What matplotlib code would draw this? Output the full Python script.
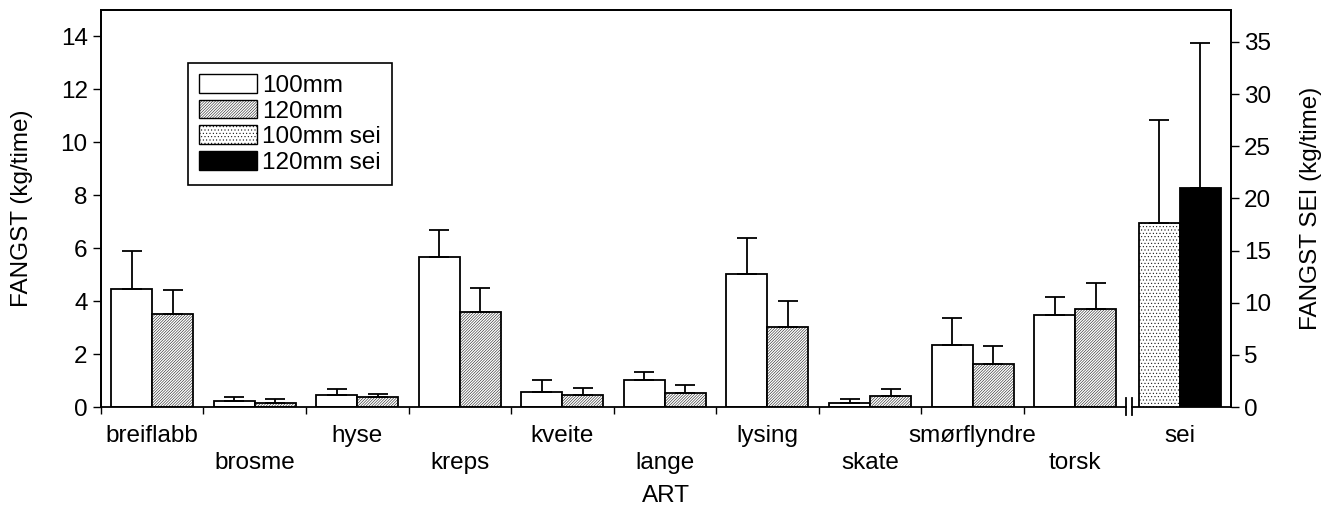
import matplotlib
matplotlib.use("Agg")
import matplotlib.pyplot as plt
import matplotlib.transforms as mtransforms
from matplotlib.patches import Patch
import numpy as np

plt.rcParams['font.family'] = ['Liberation Sans', 'DejaVu Sans']
plt.rcParams['hatch.linewidth'] = 0.35

# catch per species (kg/time), mean and upper error
arter = ['breiflabb', 'brosme', 'hyse', 'kreps', 'kveite',
         'lange', 'lysing', 'skate', 'smørflyndre', 'torsk']
fangst_100 = [4.45, 0.24, 0.44, 5.66, 0.58, 1.02, 5.02, 0.16, 2.35, 3.47]
feil_100 = [1.43, 0.15, 0.23, 1.04, 0.44, 0.32, 1.36, 0.14, 1.03, 0.70]
fangst_120 = [3.51, 0.16, 0.37, 3.58, 0.45, 0.52, 3.01, 0.43, 1.64, 3.71]
feil_120 = [0.91, 0.15, 0.12, 0.91, 0.26, 0.31, 1.01, 0.26, 0.66, 0.98]

# sei plotted on its own (right) axis
sei_fangst = [17.6, 21.0]
sei_feil = [9.9, 13.9]
sei_navn = ['100mm sei', '120mm sei']

serier = ['100mm', '120mm']

FS = 17.5
SKRAVUR = '////////////'


def main():
    fig = plt.figure(figsize=(13.37, 5.13), dpi=100)
    ax = fig.add_axes([0.0755, 0.2066, 0.8452, 0.7739])
    ax2 = ax.twinx()

    n = len(arter)
    w = 0.4
    x = np.arange(n) + 0.5
    lw = 1.3

    ax.bar(x - w / 2, fangst_100, w, color='white', edgecolor='black', linewidth=lw, zorder=2)
    ax.bar(x + w / 2, fangst_120, w, color='white', edgecolor='black', linewidth=lw,
           hatch=SKRAVUR, zorder=2)
    ax.errorbar(x - w / 2, fangst_100, yerr=[np.zeros(n), feil_100], fmt='none',
                ecolor='black', elinewidth=lw, capsize=7.5, capthick=lw, zorder=3)
    ax.errorbar(x + w / 2, fangst_120, yerr=[np.zeros(n), feil_120], fmt='none',
                ecolor='black', elinewidth=lw, capsize=7.5, capthick=lw, zorder=3)

    # sei group after the axis break
    xs = 10.52
    sx = [xs - w / 2, xs + w / 2]
    ax2.bar(sx[0], sei_fangst[0], w, color='white', edgecolor='black', linewidth=lw,
            hatch='.....', zorder=2)
    ax2.bar(sx[1], sei_fangst[1], w, color='black', edgecolor='black', linewidth=lw, zorder=2)
    ax2.errorbar(sx, sei_fangst, yerr=[[0, 0], sei_feil], fmt='none', ecolor='black',
                 elinewidth=lw, capsize=7.5, capthick=lw, zorder=3)

    xmax = 11.02
    ax.set_xlim(0, xmax)
    ax.set_ylim(0, 15)
    ax2.set_ylim(0, 38.06)
    ax.set_yticks(np.arange(0, 15, 2))
    ax2.set_yticks(np.arange(0, 36, 5))

    # ticks between groups, labels staggered on two rows
    ax.set_xticks(np.arange(0, 10))
    ax.set_xticklabels([])
    etiketter = [a if i % 2 == 0 else '\n' + a for i, a in enumerate(arter)]
    ax.set_xticks(list(x) + [xs], minor=True)
    ax.set_xticklabels(etiketter + ['sei'], minor=True, fontsize=FS, linespacing=1.3)
    ax.tick_params(axis='x', which='minor', length=0, pad=13)
    ax.tick_params(axis='x', which='major', length=5, width=1, direction='out')
    ax.tick_params(axis='y', labelsize=FS, length=6, width=1, direction='out')
    ax2.tick_params(axis='y', labelsize=FS, length=6, width=1, direction='out')

    for a in (ax, ax2):
        a.spines['bottom'].set_visible(False)
        for s in ('top', 'left', 'right'):
            a.spines[s].set_linewidth(1.3)

    # bottom axis line with break marks before sei
    trans = mtransforms.blended_transform_factory(ax.transData, ax.transAxes)
    ax.plot([0, 10.0], [0, 0], color='black', lw=1.3, transform=trans, clip_on=False, zorder=5)
    ax.plot([10.05, xmax], [0, 0], color='black', lw=1.3, transform=trans, clip_on=False, zorder=5)
    for bx in (10.0, 10.05):
        ax.plot([bx, bx], [-0.02, 0.023], color='black', lw=1.3, transform=trans,
                clip_on=False, zorder=5)

    ax.set_xlabel('ART', fontsize=FS, labelpad=8)
    ax.set_ylabel('FANGST (kg/time)', fontsize=FS, labelpad=20)
    ax2.set_ylabel('FANGST SEI (kg/time)', fontsize=FS, labelpad=21)

    handles = [
        Patch(facecolor='white', edgecolor='black', linewidth=1),
        Patch(facecolor='white', edgecolor='black', linewidth=1, hatch=SKRAVUR),
        Patch(facecolor='white', edgecolor='black', linewidth=1, hatch='.....'),
        Patch(facecolor='black', edgecolor='black', linewidth=1),
    ]
    leg = ax2.legend(handles, serier + sei_navn, loc='upper left',
                     bbox_to_anchor=(0.077, 0.866), fontsize=FS, frameon=True,
                     fancybox=False, edgecolor='black', framealpha=1,
                     handlelength=2.4, handleheight=0.8, handletextpad=0.2,
                     labelspacing=0.12, borderpad=0.45, borderaxespad=0)
    leg.get_frame().set_linewidth(1.2)

    fig.savefig('out.png', dpi=100)


if __name__ == "__main__":
    main()
